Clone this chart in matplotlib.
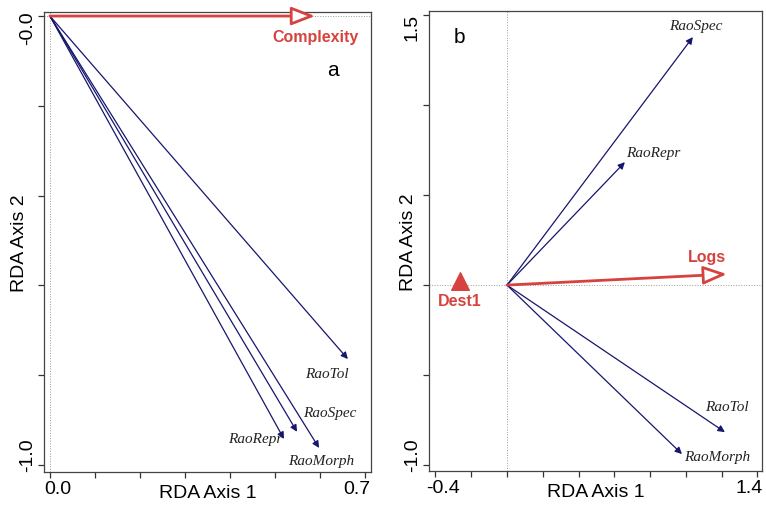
import matplotlib
matplotlib.use('Agg')
import matplotlib.pyplot as plt
import matplotlib.transforms as mtransforms
import numpy as np

# panel a: trait vectors and the Complexity vector
a_names = ['RaoTol', 'RaoSpec', 'RaoRepr', 'RaoMorph']
a_x = [0.662, 0.549, 0.520, 0.598]
a_y = [-0.764, -0.926, -0.942, -0.962]
a_lab_x = [0.616, 0.622, 0.456, 0.602]
a_lab_y = [-0.797, -0.882, -0.942, -0.989]
a_env = ['Complexity']
a_env_x = [0.589]
a_env_y = [0.0]

# panel b
b_names = ['RaoSpec', 'RaoRepr', 'RaoTol', 'RaoMorph']
b_x = [1.039, 0.659, 1.218, 0.978]
b_y = [1.378, 0.683, -0.817, -0.939]
b_lab_x = [1.056, 0.816, 1.229, 1.173]
b_lab_y = [1.44, 0.739, -0.672, -0.95]
b_env = ['Logs']
b_env_x = [1.229]
b_env_y = [0.061]
b_cent = ['Dest1']
b_cent_x = [-0.263]
b_cent_y = [0.022]

RED = '#d6433f'
BLUE = '#16166e'
SANS = 'Liberation Sans'
SERIF = 'Liberation Serif'

fig = plt.figure(figsize=(7.66, 5.06), dpi=100)
ax1 = fig.add_axes([0.0574, 0.0652, 0.4269, 0.909])
ax2 = fig.add_axes([0.560, 0.0672, 0.4347, 0.9088])


def style_axes(ax):
    for s in ax.spines.values():
        s.set_linewidth(0.9)
        s.set_color('#444444')
    ax.axhline(0, color='#999999', lw=0.7, ls=':', zorder=0)
    ax.axvline(0, color='#999999', lw=0.7, ls=':', zorder=0)
    ax.tick_params(direction='out', length=4, width=0.9, labelsize=14,
                   pad=2, color='#333333')
    for lab in ax.get_yticklabels():
        lab.set_rotation(90)
        lab.set_va('center')
        lab.set_family(SANS)
    for lab in ax.get_xticklabels():
        lab.set_family(SANS)
    # end labels sit a little inside their ticks, as in the original
    xt = ax.xaxis.get_major_ticks()
    yt = ax.yaxis.get_major_ticks()
    shifts = [(xt[0].label1, 8, 0), (xt[-1].label1, -8, 0),
              (yt[0].label1, 0, 11), (yt[-1].label1, 0, -11)]
    for lab, dx, dy in shifts:
        off = mtransforms.ScaledTranslation(dx / 100, dy / 100, fig.dpi_scale_trans)
        lab.set_transform(lab.get_transform() + off)


def draw_traits(ax, xs, ys, lx, ly, names):
    for x, y, tx, ty, n in zip(xs, ys, lx, ly, names):
        ax.annotate('', xy=(x, y), xytext=(0, 0),
                    arrowprops=dict(arrowstyle='-|>', color=BLUE, lw=0.9,
                                    mutation_scale=10, shrinkA=0, shrinkB=0))
        ax.text(tx, ty, n, family=SERIF, style='italic', fontsize=11,
                ha='center', va='center', color='#222222')


def draw_env(ax, xs, ys, names, lab_off):
    for x, y, n in zip(xs, ys, names):
        ax.annotate('', xy=(x, y), xytext=(0, 0),
                    arrowprops=dict(arrowstyle='-|>,head_length=0.9,head_width=0.35',
                                    ec=RED, fc='white', lw=2,
                                    mutation_scale=16, shrinkA=0, shrinkB=0))
        ax.text(x + lab_off[0], y + lab_off[1], n, family=SANS,
                fontweight='bold', fontsize=11.5, color=RED,
                ha='center', va='center')


# panel a
draw_traits(ax1, a_x, a_y, a_lab_x, a_lab_y, a_names)
draw_env(ax1, a_env_x, a_env_y, a_env, (0.0, -0.045))
ax1.text(0.629, -0.118, 'a', family=SANS, fontsize=15, ha='center', va='center')
ax1.set_xlim(-0.0133, 0.7133)
ax1.set_ylim(-1.0156, 0.0089)
ax1.set_xticks(np.arange(0, 0.71, 0.1))
ax1.set_xticklabels(['0.0', '', '', '', '', '', '', '0.7'])
ax1.set_yticks([-1.0, -0.8, -0.6, -0.4, -0.2, 0])
ax1.set_yticklabels(['-1.0', '', '', '', '', '-0.0'])
style_axes(ax1)
ax1.set_xlabel('RDA Axis 1', family=SANS, fontsize=14)
ax1.set_ylabel('RDA Axis 2', family=SANS, fontsize=14)
ax1.xaxis.set_label_coords(0.5, -0.026)
ax1.yaxis.set_label_coords(-0.048, 0.5)

# panel b
draw_traits(ax2, b_x, b_y, b_lab_x, b_lab_y, b_names)
draw_env(ax2, b_env_x, b_env_y, b_env, (-0.11, 0.095))
ax2.scatter(b_cent_x, b_cent_y, marker='^', s=160, color=RED, zorder=3)
for x, y, n in zip(b_cent_x, b_cent_y, b_cent):
    ax2.text(x, y - 0.105, n, family=SANS, fontweight='bold', fontsize=11.5,
             color=RED, ha='center', va='center')
ax2.text(-0.263, 1.38, 'b', family=SANS, fontsize=15, ha='center', va='center')
ax2.set_xlim(-0.436, 1.425)
ax2.set_ylim(-1.033, 1.522)
ax2.set_xticks(np.arange(-0.4, 1.41, 0.2))
ax2.set_xticklabels(['-0.4'] + [''] * 8 + ['1.4'])
ax2.set_yticks([-1.0, -0.5, 0, 0.5, 1.0, 1.5])
ax2.set_yticklabels(['-1.0', '', '', '', '', '1.5'])
style_axes(ax2)
ax2.set_xlabel('RDA Axis 1', family=SANS, fontsize=14)
ax2.set_ylabel('RDA Axis 2', family=SANS, fontsize=14)
ax2.xaxis.set_label_coords(0.5, -0.026)
ax2.yaxis.set_label_coords(-0.037, 0.5)

fig.savefig('out.png', dpi=100)
